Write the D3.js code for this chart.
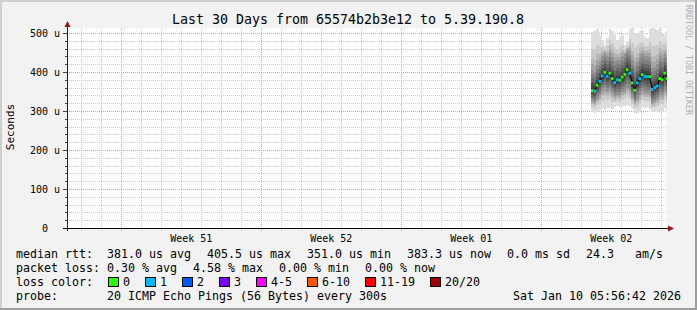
<!DOCTYPE html>
<html>
<head>
<meta charset="utf-8">
<script src="https://cdn.jsdelivr.net/npm/d3@7"></script>
<style>
  html, body { margin: 0; padding: 0; background: #f2f2f2; }
  svg { display: block; font-family: "DejaVu Sans Mono", monospace; }
  text { white-space: pre; }
</style>
</head>
<body>
<svg id="chart" width="697" height="310"></svg>
<script>
// time axis (CET wall clock kept as UTC so day / week lines fall on local midnights)
var timeStart = new Date(Date.UTC(2025, 11, 11, 6, 56, 42)),
    timeEnd = new Date(Date.UTC(2026, 0, 10, 6, 56, 42)),
    sampleStart = new Date(Date.UTC(2026, 0, 6, 11, 45)),
    sampleHours = 3;

var yTicks = [0, 100, 200, 300, 400, 500],
    yTickLabels = ["0  ", "100 u", "200 u", "300 u", "400 u", "500 u"],
    weekLabels = ["Week 51", "Week 52", "Week 01", "Week 02"];

// median rtt (us) and lost pings per sample
var medianRtt = [352, 351, 366, 376, 390, 399, 389, 397, 383, 373, 380, 379, 387, 394, 405.5, 397,
                 372, 353, 372, 383, 393, 389, 388, 388, 355, 360, 364, 383, 380, 397, 383.3];
var lossCount = [0, 1, 0, 1, 1, 0, 1, 0, 0, 1, 1, 0, 0, 0, 0, 1, 0, 0, 1, 1, 0, 1, 1, 0, 1, 1, 1, 0, 0, 0, 0];

// smoke: spread of the 20 pings
var smokeMax = [502, 505, 509, 495, 482, 470, 488, 510, 506, 495, 482, 490, 495, 470, 478, 510,
                512, 500, 500, 505, 505, 490, 488, 510, 512, 510, 508, 512, 500, 495, 505];
var smokeHi = [405, 400, 418, 425, 440, 448, 440, 450, 438, 428, 432, 430, 440, 445, 455, 452,
               430, 412, 425, 438, 445, 440, 442, 438, 410, 412, 420, 440, 436, 445, 435];
var smokeLo = [325, 322, 332, 340, 352, 358, 352, 356, 345, 338, 342, 340, 348, 352, 360, 354,
               335, 322, 332, 342, 350, 348, 346, 345, 320, 325, 330, 342, 340, 352, 345];
var smokeMin = [298, 296, 300, 302, 304, 303, 307, 308, 306, 309, 312, 310, 313, 314, 315, 312,
                305, 296, 294, 298, 310, 308, 311, 306, 298, 297, 299, 300, 298, 307, 306];

var lossLabels = ["0", "1", "2", "3", "4-5", "6-10", "11-19", "20/20"],
    lossColors = ["#26ff00", "#00b8ff", "#0059ff", "#7e00ff", "#ff00ff", "#ff5500", "#ff0000", "#a10000"];

var rttStats = ["381.0 us avg", "405.5 us max", "351.0 us min", "383.3 us now", "0.0 ms sd", "24.3   am/s"],
    lossStats = ["0.30 % avg", "4.58 % max", "0.00 % min", "0.00 % now"];

var W = 697, H = 310,
    plot = { left: 67, right: 667, top: 28, bottom: 228 },
    charW = 7.0,
    legendFont = 11.63;

var svg = d3.select("#chart");

// background + frame
svg.append("rect").attr("width", W).attr("height", H).attr("fill", "#f2f2f2");
svg.append("rect").attr("x", plot.left).attr("y", plot.top)
    .attr("width", plot.right - plot.left).attr("height", plot.bottom - plot.top).attr("fill", "#ffffff");
svg.append("path").attr("d", "M0,0H" + W + "V2H2V" + H + "H0Z").attr("fill", "#cfcfcf");
svg.append("path").attr("d", "M" + W + "," + H + "H0V" + (H - 2) + "H" + (W - 2) + "V0H" + W + "Z").attr("fill", "#9e9e9e");

var x = d3.scaleUtc().domain([timeStart, timeEnd]).range([plot.left, plot.right]);
var y = d3.scaleLinear().domain([0, 512.8]).range([plot.bottom, plot.top]);

function px(v) { return Math.round(v) + 0.5; }

var grid = svg.append("g").attr("stroke-dasharray", "1,1").attr("stroke-width", 1);

// minor grid
var minorY = y.ticks(25).filter(function(v) { return yTicks.indexOf(v) < 0; });
grid.selectAll(".hmin").data(minorY).enter().append("line")
    .attr("x1", plot.left).attr("x2", plot.right)
    .attr("y1", function(d) { return px(y(d)); }).attr("y2", function(d) { return px(y(d)); })
    .attr("stroke", "#cdcdcd");

var days = d3.utcDay.range(timeStart, timeEnd),
    weeks = d3.utcSunday.range(timeStart, timeEnd);
var minorDays = days.filter(function(d) { return d.getUTCDay() !== 0; });
grid.selectAll(".vmin").data(minorDays).enter().append("line")
    .attr("x1", function(d) { return px(x(d)); }).attr("x2", function(d) { return px(x(d)); })
    .attr("y1", plot.top).attr("y2", plot.bottom + 3)
    .attr("stroke", "#cdcdcd");

// major grid
grid.selectAll(".hmaj").data(yTicks.slice(1)).enter().append("line")
    .attr("x1", plot.left).attr("x2", plot.right)
    .attr("y1", function(d) { return px(y(d)); }).attr("y2", function(d) { return px(y(d)); })
    .attr("stroke", "#eaa0a0");
grid.selectAll(".vmaj").data(weeks).enter().append("line")
    .attr("x1", function(d) { return px(x(d)); }).attr("x2", function(d) { return px(x(d)); })
    .attr("y1", plot.top).attr("y2", plot.bottom + 3)
    .attr("stroke", "#eaa0a0");

// smoke
svg.append("clipPath").attr("id", "clip").append("rect")
    .attr("x", plot.left).attr("y", plot.top)
    .attr("width", plot.right - plot.left).attr("height", plot.bottom - plot.top);

var samples = medianRtt.map(function(m, i) {
    var t0 = d3.utcHour.offset(sampleStart, i * sampleHours),
        t1 = d3.utcHour.offset(sampleStart, (i + 1) * sampleHours);
    return { t0: t0, t1: t1, median: m, loss: lossCount[i],
             max: smokeMax[i], hi: smokeHi[i], lo: smokeLo[i], min: smokeMin[i] };
});

// 10 smoke layers, light outside to dark at the median
var outerFrac = [0, 0.45, 0.7, 0.85, 1.0],
    innerFrac = [0.2, 0.4, 0.58, 0.74, 0.88];
function bound(d, k, top) {
    var far = top ? d.max : d.min, mid = top ? d.hi : d.lo;
    if (k < 5) return far + (mid - far) * outerFrac[k];
    return mid + (d.median - mid) * innerFrac[k - 5];
}

var smoke = svg.append("g").attr("clip-path", "url(#clip)").attr("shape-rendering", "crispEdges");
d3.range(10).forEach(function(k) {
    var g = 221 - k * 19;
    smoke.selectAll(".l" + k).data(samples).enter().append("rect")
        .attr("x", function(d) { return x(d.t0); })
        .attr("width", function(d) { return x(d.t1) - x(d.t0) + 0.3; })
        .attr("y", function(d) { return y(bound(d, k, true)); })
        .attr("height", function(d) { return y(bound(d, k, false)) - y(bound(d, k, true)); })
        .attr("fill", d3.rgb(g, g, g));
});

// median line and loss-coloured marks
var medianLine = d3.line()
    .x(function(d) { return x(d.t0) + (x(d.t1) - x(d.t0)) / 2; })
    .y(function(d) { return y(d.median); });
var med = svg.append("g").attr("clip-path", "url(#clip)");
med.append("path").datum(samples).attr("d", medianLine)
    .attr("fill", "none").attr("stroke", "#000").attr("stroke-width", 1);
med.selectAll(".mk").data(samples).enter().append("rect")
    .attr("x", function(d) { return x(d.t0); })
    .attr("width", function(d) { return x(d.t1) - x(d.t0); })
    .attr("y", function(d) { return y(d.median) - 1.5; })
    .attr("height", 3)
    .attr("fill", function(d) { return lossColors[d.loss]; });

// axes
var axes = svg.append("g").attr("shape-rendering", "crispEdges");
axes.selectAll(".yt").data(y.ticks(25)).enter().append("line")
    .attr("x1", function(d) { return yTicks.indexOf(d) >= 0 ? plot.left - 4 : plot.left - 2; })
    .attr("x2", plot.left)
    .attr("y1", function(d) { return px(y(d)); }).attr("y2", function(d) { return px(y(d)); })
    .attr("stroke", "#444");
axes.append("line").attr("x1", plot.left - 4).attr("x2", plot.right + 3)
    .attr("y1", px(y(0))).attr("y2", px(y(0))).attr("stroke", "#000");
axes.append("line").attr("x1", px(plot.left)).attr("x2", px(plot.left))
    .attr("y1", plot.bottom + 3).attr("y2", plot.top - 5).attr("stroke", "#222");
svg.append("path").attr("d", "M" + (plot.left - 2.5) + "," + (plot.top - 1) + "L" + (plot.left + 0.5) + "," + (plot.top - 7) + "L" + (plot.left + 3.5) + "," + (plot.top - 1) + "Z")
    .attr("fill", "#8e1a1a");
svg.append("path").attr("d", "M" + (plot.right + 1) + "," + (plot.bottom - 2.5) + "L" + (plot.right + 7) + "," + (plot.bottom + 0.5) + "L" + (plot.right + 1) + "," + (plot.bottom + 3.5) + "Z")
    .attr("fill", "#8e1a1a");

// y labels
svg.selectAll(".ylab").data(yTicks).enter().append("text")
    .attr("x", 60).attr("y", function(d) { return y(d) + 3.6; })
    .attr("text-anchor", "end").attr("font-size", 10).attr("fill", "#000")
    .text(function(d, i) { return yTickLabels[i]; });

// week labels, centred in each week
svg.selectAll(".wlab").data(weeks).enter().append("text")
    .attr("x", function(d) { return x(d3.utcHour.offset(d, 84)); })
    .attr("y", 241.5)
    .attr("text-anchor", "middle").attr("font-size", 10).attr("fill", "#000")
    .text(function(d, i) { return weekLabels[i]; });

// titles
svg.append("text").attr("x", 348).attr("y", 24).attr("text-anchor", "middle")
    .attr("font-size", 13.3).attr("fill", "#000")
    .text("Last 30 Days from 65574b2b3e12 to 5.39.190.8");
svg.append("text").attr("transform", "translate(14,127) rotate(-90)")
    .attr("text-anchor", "middle").attr("font-size", 11).attr("fill", "#000")
    .text("Seconds");
svg.append("text").attr("transform", "translate(686,5) rotate(90)")
    .attr("font-size", 8.3).attr("fill", "#b0b0b0")
    .text("RRDTOOL / TOBI OETIKER");

// legend
var leg = svg.append("g").attr("font-size", legendFont).attr("fill", "#000");
function legendRow(label, items, yb, gap) {
    leg.append("text").attr("x", 16).attr("y", yb).text(label);
    var xs = 107;
    items.forEach(function(s) {
        leg.append("text").attr("x", xs).attr("y", yb).text(s);
        xs += s.length * charW + gap;
    });
}
legendRow("median rtt:", rttStats, 258, 16);
legendRow("packet loss:", lossStats, 272, 16);

leg.append("text").attr("x", 16).attr("y", 286).text("loss color:");
var bx = 108;
lossLabels.forEach(function(s, i) {
    leg.append("rect").attr("x", bx + 0.5).attr("y", 277.5).attr("width", 10).attr("height", 9)
        .attr("fill", lossColors[i]).attr("stroke", "#000").attr("stroke-width", 1);
    leg.append("text").attr("x", bx + 15).attr("y", 286).text(s);
    bx += 15 + s.length * charW + 15;
});

leg.append("text").attr("x", 16).attr("y", 300).text("probe:");
leg.append("text").attr("x", 107).attr("y", 300).text("20 ICMP Echo Pings (56 Bytes) every 300s");
leg.append("text").attr("x", 681).attr("y", 300).attr("text-anchor", "end").text("Sat Jan 10 05:56:42 2026");
</script>
</body>
</html>
